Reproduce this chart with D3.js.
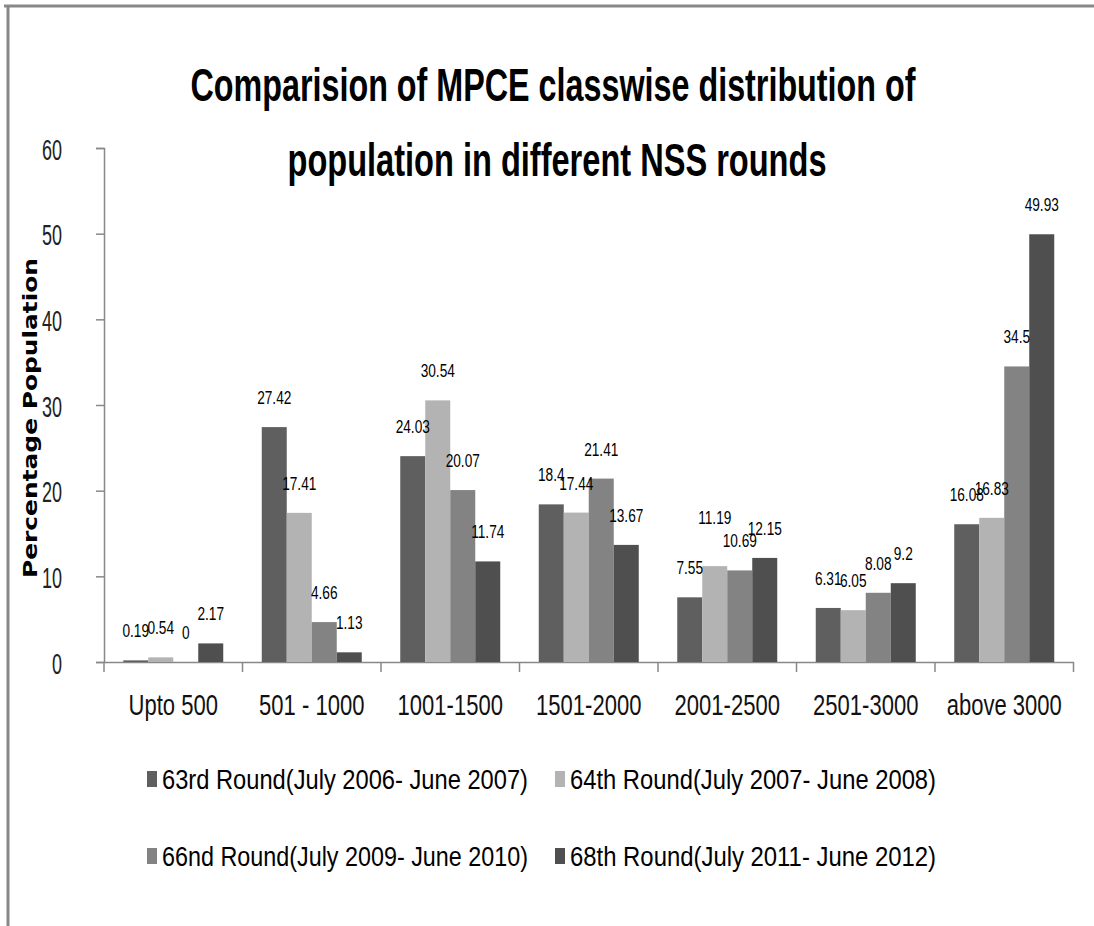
<!DOCTYPE html>
<html>
<head>
<meta charset="utf-8">
<title>MPCE classwise distribution</title>
<style>
  body { margin: 0; background: #fff; }
  text { font-family: "Liberation Sans", Arial, sans-serif; fill: #000; }
</style>
</head>
<body>
<div id="container"></div>
<script src="https://d3js.org/d3.v7.min.js"></script>
<script>
// data
var categories = ["Upto 500", "501 - 1000", "1001-1500", "1501-2000", "2001-2500", "2501-3000", "above 3000"]
var seriesNames = [
  "63rd Round(July 2006- June 2007)",
  "64th Round(July 2007- June 2008)",
  "66nd Round(July 2009- June 2010)",
  "68th Round(July 2011- June 2012)"
]
var round63 = [0.19, 27.42, 24.03, 18.4, 7.55, 6.31, 16.08]
var round64 = [0.54, 17.41, 30.54, 17.44, 11.19, 6.05, 16.83]
var round66 = [0, 4.66, 20.07, 21.41, 10.69, 8.08, 34.5]
var round68 = [2.17, 1.13, 11.74, 13.67, 12.15, 9.2, 49.93]
var yTicks = [0, 10, 20, 30, 40, 50, 60]

var seriesValues = [round63, round64, round66, round68]
var colors = ["#5f5f5f", "#b3b3b3", "#838383", "#4f4f4f"]

// one label was moved up in the original to avoid an overlap
var labelNudge = { "2001-2500|1": -19 }

var width = 1094, height = 926
var svg = d3.select('#container').append('svg')
  .attr('width', width).attr('height', height)

// outer frame (only top and left edges visible)
svg.append('line').attr('x1', 4).attr('x2', width).attr('y1', 6).attr('y2', 6)
  .attr('stroke', '#888').attr('stroke-width', 3)
svg.append('line').attr('x1', 8).attr('x2', 8).attr('y1', 5).attr('y2', height)
  .attr('stroke', '#888').attr('stroke-width', 3)

// title
svg.append('text').attr('x', 553).attr('y', 101).attr('text-anchor', 'middle')
  .style('font-size', '46px').style('font-weight', 'bold')
  .attr('textLength', 725).attr('lengthAdjust', 'spacingAndGlyphs')
  .text('Comparision of MPCE classwise distribution of')
svg.append('text').attr('x', 557).attr('y', 176).attr('text-anchor', 'middle')
  .style('font-size', '46px').style('font-weight', 'bold')
  .attr('textLength', 539).attr('lengthAdjust', 'spacingAndGlyphs')
  .text('population in different NSS rounds')

// scales
var x0 = d3.scaleBand().domain(categories).range([104, 1073.5])
  .paddingInner(0.278).paddingOuter(0.139)
var x1 = d3.scaleBand().domain(d3.range(seriesNames.length)).range([0, x0.bandwidth()])
var y = d3.scaleLinear().domain([0, 60]).range([662, 148])

// y axis
var yAxis = svg.append('g').attr('transform', 'translate(104,0)')
  .call(d3.axisLeft(y).tickValues(yTicks).tickSize(8).tickFormat(d3.format('d')))
yAxis.select('.domain').attr('stroke', '#888').attr('stroke-width', 1.5)
yAxis.selectAll('.tick line').attr('stroke', '#888').attr('stroke-width', 1.5)
yAxis.selectAll('.tick text').remove()
yAxis.selectAll('.tick').append('text')
  .attr('transform', 'translate(-42,11) scale(0.6,1)')
  .attr('text-anchor', 'end')
  .style('font-size', '30px').style('fill', '#222')
  .text(function (d) { return d })

// x axis
var xAxis = svg.append('g').attr('transform', 'translate(0,662)')
  .call(d3.axisBottom(x0).tickSize(0).tickSizeOuter(0))
xAxis.select('.domain').attr('stroke', '#888').attr('stroke-width', 1.5)
xAxis.selectAll('.tick text').remove()
xAxis.selectAll('.tick').append('text')
  .attr('transform', 'translate(0,53) scale(0.76,1)')
  .attr('text-anchor', 'middle')
  .style('font-size', '29px').style('fill', '#111')
  .text(function (d) { return d })
// category boundary ticks
xAxis.selectAll('.bound').data(d3.range(categories.length + 1)).enter()
  .append('line')
  .attr('x1', function (i) { return x0.range()[0] + i * x0.step() })
  .attr('x2', function (i) { return x0.range()[0] + i * x0.step() })
  .attr('y1', 0).attr('y2', 10)
  .attr('stroke', '#888').attr('stroke-width', 1.5)

// bars
var groups = svg.selectAll('.grp').data(categories).enter().append('g')
  .attr('transform', function (d) { return 'translate(' + x0(d) + ',0)' })

groups.selectAll('rect')
  .data(function (c, ci) { return seriesValues.map(function (s, si) { return { cat: c, s: si, v: s[ci] } }) })
  .enter().append('rect')
  .attr('x', function (d) { return x1(d.s) })
  .attr('width', x1.bandwidth())
  .attr('y', function (d) { return y(d.v) })
  .attr('height', function (d) { return y(0) - y(d.v) })
  .attr('fill', function (d) { return colors[d.s] })

// value labels
groups.selectAll('.lbl')
  .data(function (c, ci) { return seriesValues.map(function (s, si) { return { cat: c, s: si, v: s[ci] } }) })
  .enter().append('text')
  .attr('transform', function (d) {
    var dy = labelNudge[d.cat + '|' + d.s] || 0
    return 'translate(' + (x1(d.s) + x1.bandwidth() / 2) + ',' + (y(d.v) - 23 + dy) + ') scale(0.72,1)'
  })
  .attr('text-anchor', 'middle')
  .style('font-size', '19px')
  .text(function (d) { return d.v })

// y axis title
svg.append('text')
  .attr('transform', 'translate(37,418) rotate(-90)')
  .attr('text-anchor', 'middle')
  .style('font-family', '"DejaVu Sans", Verdana, sans-serif')
  .style('font-size', '20px').style('font-weight', 'bold')
  .attr('textLength', 320).attr('lengthAdjust', 'spacingAndGlyphs')
  .text('Percentage Population')

// legend, two rows of two
var legend = svg.selectAll('.leg').data(seriesNames).enter().append('g')
  .attr('transform', function (d, i) {
    return 'translate(' + (i % 2 === 0 ? 147 : 555) + ',' + (i < 2 ? 779 : 856) + ')'
  })
legend.append('rect').attr('x', 0).attr('y', -8).attr('width', 10).attr('height', 16)
  .attr('fill', function (d, i) { return colors[i] })
legend.append('text').attr('x', 15).attr('y', 10)
  .style('font-size', '27px')
  .attr('textLength', 366).attr('lengthAdjust', 'spacingAndGlyphs')
  .text(function (d) { return d })
</script>
</body>
</html>
